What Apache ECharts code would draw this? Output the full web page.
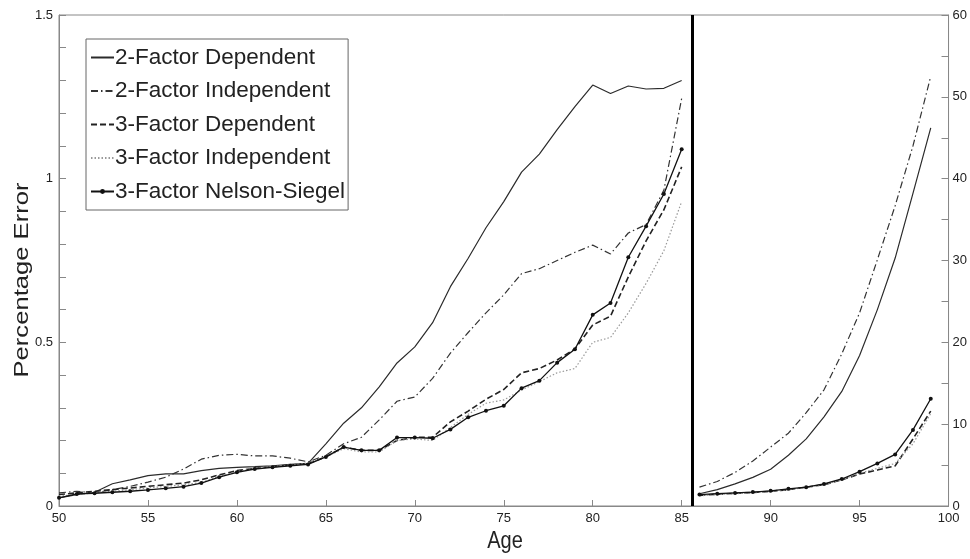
<!DOCTYPE html>
<html><head><meta charset="utf-8">
<script src="https://cdn.jsdelivr.net/npm/echarts@6/dist/echarts.min.js"></script>
<style>html,body{margin:0;padding:0;background:#fff}#c{width:970px;height:559px}</style>
</head><body><div id="c"></div>
<script>
const agesLeft = [50,51,52,53,54,55,56,57,58,59,60,61,62,63,64,65,66,67,68,69,70,71,72,73,74,75,76,77,78,79,80,81,82,83,84,85];
const agesRight = [86,87,88,89,90,91,92,93,94,95,96,97,98,99];
const seriesNames = ['2-Factor Dependent','2-Factor Independent','3-Factor Dependent','3-Factor Independent','3-Factor Nelson-Siegel'];

const twoDepLeft = [0.025,0.035,0.042,0.068,0.08,0.093,0.098,0.098,0.108,0.115,0.118,0.12,0.123,0.127,0.13,0.19,0.253,0.30,0.364,0.437,0.486,0.56,0.67,0.757,0.85,0.93,1.02,1.075,1.15,1.22,1.286,1.26,1.283,1.274,1.276,1.30];
const twoIndLeft = [0.04,0.045,0.04,0.05,0.06,0.073,0.088,0.113,0.143,0.155,0.158,0.153,0.153,0.146,0.135,0.155,0.19,0.21,0.263,0.32,0.333,0.39,0.467,0.53,0.59,0.645,0.71,0.725,0.75,0.775,0.797,0.77,0.834,0.86,0.965,1.245];
const threeDepLeft = [0.035,0.04,0.045,0.05,0.055,0.06,0.065,0.07,0.08,0.095,0.108,0.115,0.12,0.125,0.13,0.15,0.18,0.17,0.17,0.2,0.21,0.21,0.257,0.29,0.326,0.356,0.407,0.42,0.446,0.48,0.553,0.58,0.70,0.81,0.905,1.036];
const threeIndLeft = [0.03,0.035,0.04,0.045,0.05,0.055,0.06,0.065,0.072,0.09,0.105,0.115,0.12,0.125,0.13,0.15,0.175,0.165,0.165,0.2,0.205,0.2,0.24,0.28,0.314,0.324,0.354,0.38,0.407,0.42,0.50,0.515,0.59,0.68,0.78,0.93];
const nsLeft = [0.025,0.037,0.039,0.042,0.045,0.049,0.054,0.059,0.07,0.088,0.103,0.113,0.118,0.123,0.127,0.15,0.18,0.17,0.17,0.209,0.209,0.207,0.234,0.271,0.291,0.306,0.36,0.383,0.438,0.479,0.584,0.62,0.76,0.855,0.953,1.09];

const twoDepRight = [1.5,2.0,2.7,3.5,4.5,6.2,8.2,10.9,14.0,18.4,24.0,30.3,38.2,46.2];
const twoIndRight = [2.3,3.0,4.1,5.5,7.2,8.9,11.4,14.2,18.6,23.6,30.1,36.7,44.0,52.5];
const threeDepRight = [1.3,1.45,1.55,1.65,1.8,2.0,2.3,2.6,3.2,3.9,4.4,4.9,8.2,11.6];
const threeIndRight = [1.25,1.4,1.5,1.6,1.75,2.0,2.25,2.6,3.2,4.0,4.6,5.2,7.6,11.3];
const nsRight = [1.4,1.5,1.6,1.7,1.85,2.1,2.3,2.7,3.3,4.2,5.2,6.3,9.3,13.1];

const splitAge = 85.6;
const xTitle = 'Age';
const yTitle = 'Percentage Error';

const styles = [
  {color:'#2b2b2b', width:1.2, type:'solid', symbol:'none'},
  {color:'#333', width:1.2, type:[7,3,1.5,3], symbol:'none'},
  {color:'#222', width:1.6, type:[6,3], symbol:'none'},
  {color:'#999', width:1.2, type:[1.5,2], symbol:'none'},
  {color:'#111', width:1.3, type:'solid', symbol:'circle'}
];
const leftData = [twoDepLeft,twoIndLeft,threeDepLeft,threeIndLeft,nsLeft];
const rightData = [twoDepRight,twoIndRight,threeDepRight,threeIndRight,nsRight];

function mk(name, st, ages, vals, yIdx){
  return {
    name, type:'line', yAxisIndex:yIdx, data: ages.map((a,i)=>[a,vals[i]]),
    symbol: st.symbol, symbolSize: 4, showSymbol: st.symbol!=='none',
    itemStyle:{color:st.color}, lineStyle:{color:st.color,width:st.width,type:st.type},
    animation:false, z: 3
  };
}
const series = [];
seriesNames.forEach((n,i)=>{ series.push(mk(n, styles[i], agesLeft, leftData[i], 0)); });
seriesNames.forEach((n,i)=>{ series.push(mk(n, styles[i], agesRight, rightData[i], 1)); });
series[0].markLine = {silent:true, symbol:'none', label:{show:false}, lineStyle:{color:'#000', width:3, type:'solid'}, data:[{xAxis:splitAge}]};

const legendData = seriesNames.map((n,i)=> i<4 ? {name:n, itemStyle:{opacity:0}} : {name:n});

const font = 'Liberation Sans, Arial, sans-serif';
const chart = echarts.init(document.getElementById('c'));
chart.setOption({
  animation:false,
  grid:{left:59, right:18, top:15, bottom:53, show:true, borderColor:'#888', borderWidth:1},
  legend:{
    orient:'vertical', left:86, top:39, data:legendData,
    backgroundColor:'#fff', borderColor:'#666', borderWidth:1, padding:[7,3,7,4],
    itemWidth:23, itemHeight:6, itemGap:10.5,
    textStyle:{fontFamily:font, fontSize:22.5, color:'#222', lineHeight:22, padding:[0,0,0,-4]}
  },
  graphic:[
    {type:'text', x:505, y:541, scaleY:1.2,
     style:{text:xTitle, font:'20px '+font, fill:'#222', align:'center', verticalAlign:'middle'}, silent:true},
    {type:'text', x:22, y:280, rotation:Math.PI/2, scaleX:1.28,
     style:{text:yTitle, font:'20px '+font, fill:'#222', align:'center', verticalAlign:'middle'}, silent:true}
  ],
  xAxis:{
    type:'value', min:50, max:100, interval:5,
    axisLine:{lineStyle:{color:'#888'}}, axisTick:{inside:true, length:6, lineStyle:{color:'#888'}},
    axisLabel:{fontFamily:font, fontSize:13, color:'#222', margin:6},
    splitLine:{show:false}
  },
  yAxis:[{
    type:'value', min:0, max:1.5, interval:0.5, position:'left',
    axisLine:{show:true, lineStyle:{color:'#888'}}, axisTick:{show:true, inside:true, length:7, lineStyle:{color:'#888'}},
    minorTick:{show:true, splitNumber:5, length:7, lineStyle:{color:'#888'}},
    axisLabel:{fontFamily:font, fontSize:13, color:'#222', margin:6, formatter:v=>String(v)},
    splitLine:{show:false}
  },{
    type:'value', min:0, max:60, interval:10, position:'right',
    axisLine:{show:true, lineStyle:{color:'#888'}}, axisTick:{show:true, inside:true, length:7, lineStyle:{color:'#888'}},
    minorTick:{show:true, splitNumber:2, length:7, lineStyle:{color:'#888'}},
    axisLabel:{fontFamily:font, fontSize:13, color:'#222', margin:4},
    splitLine:{show:false}
  }],
  series
});
</script></body></html>
